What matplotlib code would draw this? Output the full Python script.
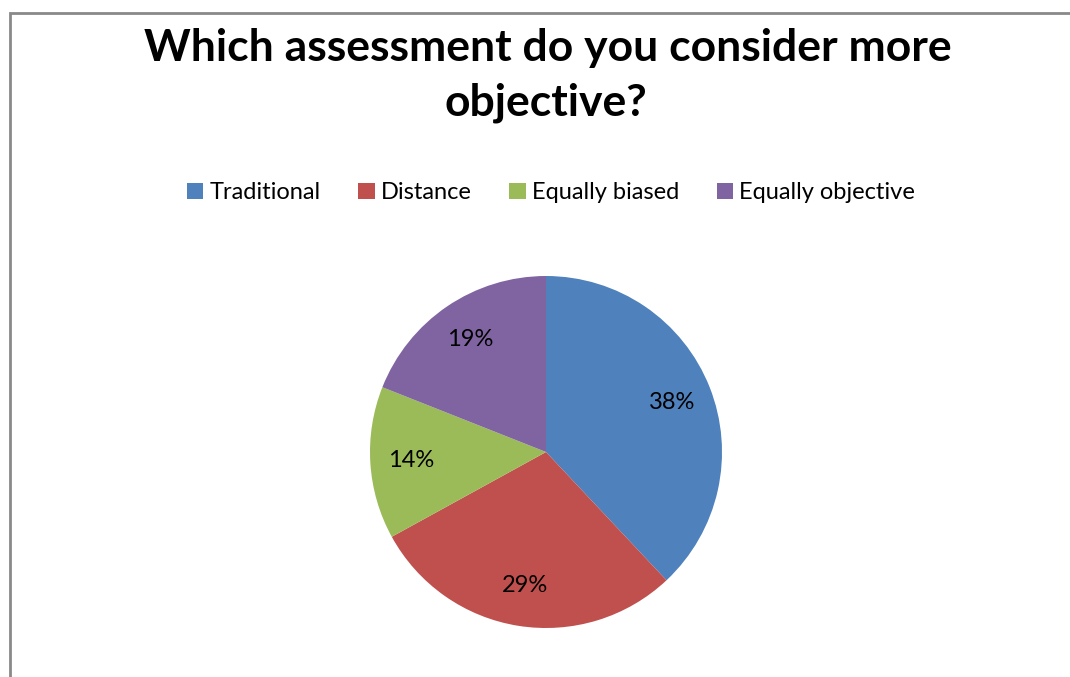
import matplotlib.pyplot as plt
from matplotlib.patches import Rectangle

categories = ['Traditional', 'Distance', 'Equally biased', 'Equally objective']
shares = [38, 29, 14, 19]
colors = ['#4F81BD', '#C0504D', '#9BBB59', '#8064A2']

plt.rcParams['font.family'] = ['Lato', 'DejaVu Sans']

fig = plt.figure(figsize=(10.7, 6.77), dpi=100)
W, H = 1070, 677

# chart border (runs off the right and bottom of the image)
fig.patches.append(Rectangle((10 / W, -0.05), 1.1, 1 - 13 / H + 0.05,
                             transform=fig.transFigure, fill=False,
                             edgecolor='#898989', linewidth=2))

fig.text(548 / W, 1 - 48 / H, 'Which assessment do you consider more',
         ha='center', va='center', fontsize=32, fontweight='bold')
fig.text(546 / W, 1 - 103 / H, 'objective?',
         ha='center', va='center', fontsize=32, fontweight='bold')

cx, cy, r = 546, 452, 176
ax = fig.add_axes([(cx - r) / W, (H - cy - r) / H, 2 * r / W, 2 * r / H])
wedges, texts, autotexts = ax.pie(shares, colors=colors, startangle=90,
                                  counterclock=False, autopct='%d%%',
                                  pctdistance=0.77,
                                  textprops={'fontsize': 17, 'color': 'black'})
ax.set_xlim(-1, 1)
ax.set_ylim(-1, 1)
ax.set_aspect('equal')

fig.legend(wedges, categories, loc='center', bbox_to_anchor=(551 / W, 1 - 193 / H),
           ncol=4, frameon=False, fontsize=17, handlelength=0.7, handleheight=0.7,
           handletextpad=0.25, columnspacing=1.6)

plt.savefig('out.png')
